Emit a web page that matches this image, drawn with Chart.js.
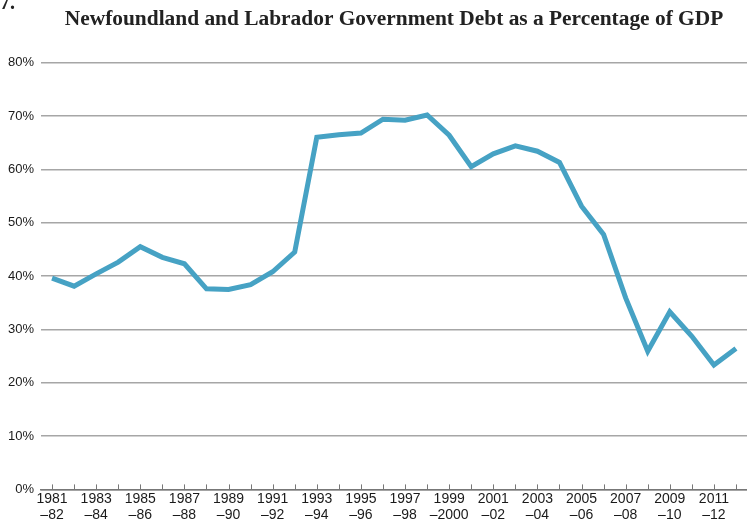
<!DOCTYPE html>
<html>
<head>
<meta charset="utf-8">
<script src="https://cdn.jsdelivr.net/npm/chart.js@4.4.0/dist/chart.umd.min.js"></script>
<style>
    body { margin: 0; background: #ffffff; }
    #wrap { position: relative; width: 747px; height: 525px; overflow: hidden; }
    #figNum {
        position: absolute; left: 0; top: -8px;
        font: bold 20px "Liberation Serif", serif; color: #222; line-height: 20px;
    }
</style>
</head>
<body>
<div id="wrap">
    <div id="figNum">7.</div>
    <canvas id="debtChart" width="747" height="525"></canvas>
</div>
<script>
// Fiscal years (category axis)
const fiscalYears = [
    '1981–82', '1982–83', '1983–84', '1984–85', '1985–86', '1986–87', '1987–88', '1988–89',
    '1989–90', '1990–91', '1991–92', '1992–93', '1993–94', '1994–95', '1995–96', '1996–97',
    '1997–98', '1998–99', '1999–2000', '2000–01', '2001–02', '2002–03', '2003–04', '2004–05',
    '2005–06', '2006–07', '2007–08', '2008–09', '2009–10', '2010–11', '2011–12', '2012–13'
];

// Debt as % of GDP
const debtPct = [
    39.6, 38.1, 40.4, 42.6, 45.5, 43.5, 42.3, 37.6,
    37.5, 38.4, 40.8, 44.5, 66.0, 66.5, 66.8, 69.4,
    69.2, 70.2, 66.4, 60.5, 62.9, 64.4, 63.4, 61.3,
    53.1, 47.8, 35.9, 25.9, 33.3, 28.7, 23.3, 26.4
];

// Y axis ticks
const yTicks = [0, 10, 20, 30, 40, 50, 60, 70, 80];

const xFont = { family: '"Liberation Sans", Arial, sans-serif', size: 14, lineHeight: 1.2 };
const yFont = { family: '"Liberation Sans", Arial, sans-serif', size: 13 };

// Small upward tick marks on the x axis
const innerTicks = {
    id: 'innerTicks',
    afterDraw(chart) {
        const ctx = chart.ctx;
        const x = chart.scales.x;
        const bottom = chart.chartArea.bottom;
        ctx.save();
        ctx.strokeStyle = '#777777';
        ctx.lineWidth = 1;
        fiscalYears.forEach((_, i) => {
            const px = Math.round(x.getPixelForValue(i)) + 0.5;
            ctx.beginPath();
            ctx.moveTo(px, bottom);
            ctx.lineTo(px, bottom - 5);
            ctx.stroke();
        });
        ctx.restore();
    }
};

const ctx = document.getElementById('debtChart').getContext('2d');
new Chart(ctx, {
    type: 'line',
    data: {
        labels: fiscalYears,
        datasets: [{
            data: debtPct,
            borderColor: '#46a2c4',
            borderWidth: 5,
            pointRadius: 0,
            tension: 0,
            borderJoinStyle: 'miter',
            borderCapStyle: 'butt'
        }]
    },
    options: {
        responsive: false,
        animation: false,
        layout: { padding: { left: 1, right: 0, top: 0, bottom: 0 } },
        plugins: {
            legend: { display: false },
            tooltip: { enabled: false },
            title: {
                display: true,
                fullSize: false,
                text: 'Newfoundland and Labrador Government Debt as a Percentage of GDP',
                color: '#222222',
                font: { family: '"Liberation Serif", serif', size: 21.4, weight: 'bold' },
                padding: { top: 7, bottom: 30 }
            }
        },
        scales: {
            x: {
                offset: true,
                grid: { display: false, drawTicks: false },
                border: { display: true, color: '#777777', width: 1.5 },
                ticks: {
                    autoSkip: false,
                    maxRotation: 0,
                    padding: 1,
                    color: '#1a1a1a',
                    font: xFont,
                    callback: function(value, index) {
                        if (index % 2 !== 0) return '';
                        const parts = fiscalYears[index].split('–');
                        return [parts[0], '–' + parts[1]];
                    }
                }
            },
            y: {
                min: yTicks[0],
                max: yTicks[yTicks.length - 1],
                border: { display: false },
                grid: { color: '#a6a6a6', lineWidth: 1.5, drawTicks: false },
                afterBuildTicks: function(scale) {
                    scale.ticks = yTicks.map(v => ({ value: v }));
                },
                ticks: {
                    padding: 7,
                    color: '#1a1a1a',
                    font: yFont,
                    callback: function(value) {
                        return value + '%';
                    }
                }
            }
        }
    },
    plugins: [innerTicks]
});
</script>
</body>
</html>
